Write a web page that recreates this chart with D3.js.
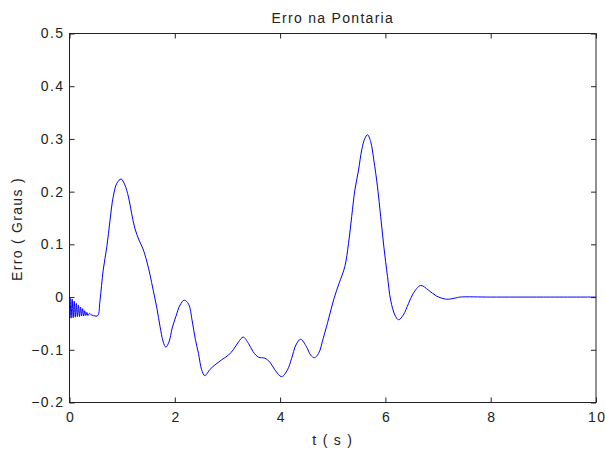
<!DOCTYPE html>
<html>
<head>
<meta charset="utf-8">
<script src="https://cdn.jsdelivr.net/npm/d3@7"></script>
<style>
  html, body { margin: 0; padding: 0; background: #fff; }
  svg text { font-family: "Liberation Sans", Arial, sans-serif; fill: #222; }
</style>
</head>
<body>
<svg id="chart" width="605" height="453"></svg>
<script>
const title = "Erro na Pontaria";
const xLabel = "t ( s )";
const yLabel = "Erro ( Graus )";
const xTicks = [0, 2, 4, 6, 8, 10];
const yTicks = [-0.2, -0.1, 0, 0.1, 0.2, 0.3, 0.4, 0.5];

const tValues = [
  0, 0.01, 0.03, 0.05, 0.07, 0.09, 0.11, 0.13, 0.15, 0.17, 0.19, 0.21, 0.23, 0.25, 0.27, 0.29, 0.31, 0.33, 0.35, 0.38, 0.42, 0.5,
  0.54, 0.58, 0.64, 0.71, 0.77, 0.83, 0.90, 0.98, 1.05, 1.12, 1.18, 1.24, 1.32, 1.39, 1.47, 1.53, 1.59, 1.66, 1.72, 1.78, 1.83,
  1.89, 1.95, 2.02, 2.10, 2.18, 2.26, 2.33, 2.39, 2.45, 2.51, 2.57, 2.67, 2.76, 2.89, 3.02, 3.11, 3.21, 3.30, 3.40, 3.49, 3.59,
  3.71, 3.81, 3.90, 4.03, 4.14, 4.22, 4.30, 4.39, 4.50, 4.58, 4.65, 4.73, 4.82, 4.93, 5.02, 5.12, 5.23, 5.30, 5.36, 5.42, 5.49,
  5.55, 5.61, 5.66, 5.72, 5.78, 5.85, 5.91, 5.97, 6.04, 6.10, 6.18, 6.25, 6.34, 6.44, 6.53, 6.67, 6.82, 6.97, 7.16, 7.32, 7.42,
  8, 9, 10
];
const errValues = [
  -0.04, -0.002, -0.04, -0.004, -0.039, -0.008, -0.038, -0.012, -0.037, -0.015, -0.037, -0.019, -0.036, -0.022, -0.036, -0.026, -0.035, -0.029, -0.035, -0.031, -0.034, -0.036,
  -0.035, -0.006, 0.051, 0.096, 0.146, 0.19, 0.216, 0.224, 0.213, 0.19, 0.159, 0.131, 0.108, 0.093, 0.067, 0.042, 0.013, -0.021, -0.056, -0.085, -0.095,
  -0.085, -0.059, -0.037, -0.015, -0.006, -0.013, -0.045, -0.08, -0.107, -0.138, -0.149, -0.137, -0.129, -0.119, -0.110, -0.100, -0.085, -0.076, -0.088, -0.104, -0.114,
  -0.116, -0.124, -0.138, -0.151, -0.138, -0.116, -0.091, -0.080, -0.094, -0.110, -0.115, -0.107, -0.078, -0.038, -0.004, 0.026, 0.058, 0.102, 0.153, 0.203, 0.241,
  0.279, 0.301, 0.308, 0.295, 0.260, 0.209, 0.153, 0.096, 0.039, -0.006, -0.034, -0.043, -0.034, -0.012, 0.007, 0.022, 0.013, 0.002, -0.004, -0.002, 0.0,
  0, 0, 0
];

const margin = { left: 69.5, right: 9, top: 33.5, bottom: 50.5 };
const W = 605, H = 453;
const svg = d3.select("#chart");

const x = d3.scaleLinear().domain([0, 10]).range([margin.left, W - margin.right]);
const y = d3.scaleLinear().domain([-0.2, 0.5]).range([H - margin.bottom, margin.top]);

const fmtY = d => (d === 0 ? "0" : d3.format(".1f")(d));

// box
svg.append("rect")
  .attr("x", x(0)).attr("y", y(0.5))
  .attr("width", x(10) - x(0)).attr("height", y(-0.2) - y(0.5))
  .attr("fill", "none").attr("stroke", "#222").attr("stroke-width", 1);

function styleAxis(g) {
  g.select(".domain").remove();
  g.selectAll(".tick line").attr("stroke", "#222");
  g.selectAll(".tick text").attr("font-size", "14px").attr("letter-spacing", "1.4px").attr("fill", "#222");
}

svg.append("g").attr("transform", `translate(0,${y(-0.2)})`)
  .call(d3.axisBottom(x).tickValues(xTicks).tickFormat(d3.format("d")).tickSize(-5).tickPadding(10))
  .call(styleAxis)
  .selectAll(".tick text").attr("dx", "0.7px");
svg.append("g").attr("transform", `translate(0,${y(0.5)})`)
  .call(d3.axisTop(x).tickValues(xTicks).tickFormat("").tickSize(-5))
  .call(styleAxis);
svg.append("g").attr("transform", `translate(${x(0)},0)`)
  .call(d3.axisLeft(y).tickValues(yTicks).tickFormat(fmtY).tickSize(-5).tickPadding(5))
  .call(styleAxis);
svg.append("g").attr("transform", `translate(${x(10)},0)`)
  .call(d3.axisRight(y).tickValues(yTicks).tickFormat("").tickSize(-5))
  .call(styleAxis);

// line
const data = tValues.map((t, i) => ({ t, v: errValues[i] }));
svg.append("path")
  .datum(data)
  .attr("fill", "none")
  .attr("stroke", "#0000ff")
  .attr("stroke-width", 1)
  .attr("d", d3.line().x(d => x(d.t)).y(d => y(d.v)).curve(d3.curveCatmullRom.alpha(0.5)));

// title and labels
svg.append("text").attr("x", (x(0) + x(10)) / 2).attr("y", 22.5)
  .attr("text-anchor", "middle").attr("font-size", "14px").attr("letter-spacing", "1.3px")
  .text(title);
svg.append("text").attr("x", (x(0) + x(10)) / 2).attr("y", 445)
  .attr("text-anchor", "middle").attr("font-size", "14px").attr("letter-spacing", "1.3px")
  .text(xLabel);
svg.append("text").attr("transform", "translate(22,229) rotate(-90)")
  .attr("text-anchor", "middle").attr("font-size", "14px").attr("letter-spacing", "1.3px")
  .text(yLabel);
</script>
</body>
</html>
